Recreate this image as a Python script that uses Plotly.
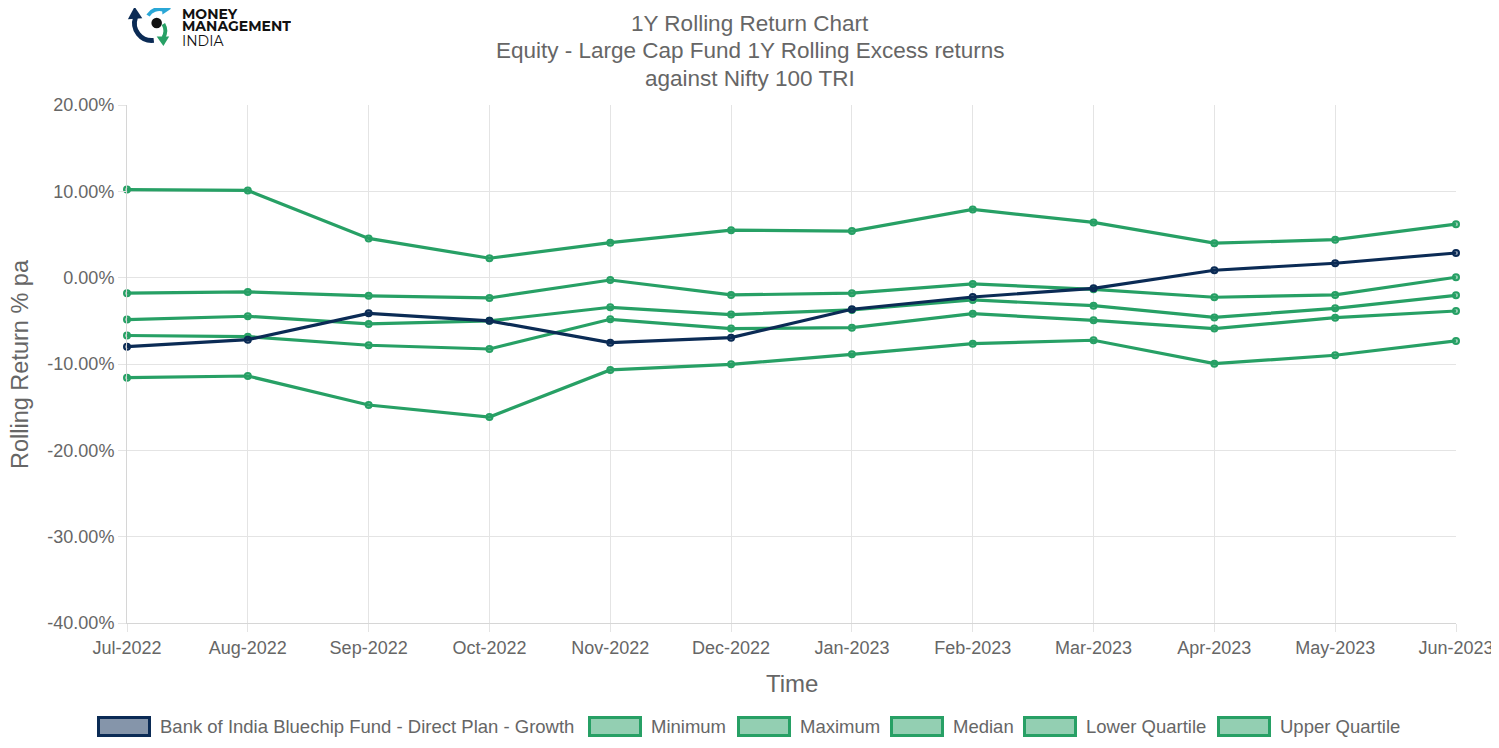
import plotly.graph_objects as go
import base64

months = ["Jul-2022", "Aug-2022", "Sep-2022", "Oct-2022", "Nov-2022", "Dec-2022",
          "Jan-2023", "Feb-2023", "Mar-2023", "Apr-2023", "May-2023", "Jun-2023"]

fund = [-7.99, -7.18, -4.13, -5.00, -7.53, -6.95, -3.66, -2.24, -1.23, 0.86, 1.67, 2.86]
minimum = [-11.58, -11.39, -14.75, -16.14, -10.69, -10.04, -8.88, -7.64, -7.25, -9.96, -8.99, -7.33]
maximum = [10.20, 10.10, 4.55, 2.25, 4.05, 5.50, 5.40, 7.90, 6.40, 4.00, 4.40, 6.20]
median = [-4.85, -4.47, -5.36, -5.00, -3.43, -4.28, -3.74, -2.58, -3.24, -4.60, -3.55, -2.04]
lower_q = [-6.70, -6.83, -7.83, -8.26, -4.82, -5.90, -5.79, -4.17, -4.94, -5.90, -4.63, -3.86]
upper_q = [-1.80, -1.65, -2.10, -2.35, -0.27, -2.00, -1.80, -0.73, -1.35, -2.27, -2.00, 0.05]

y_ticks = [-40, -30, -20, -10, 0, 10, 20]
y_ticktext = ["-40.00%", "-30.00%", "-20.00%", "-10.00%", "0.00%", "10.00%", "20.00%"]

NAVY = "#0b2b55"
GREEN = "#27a065"
series = [
    ("Bank of India Bluechip Fund - Direct Plan - Growth", fund, NAVY, "rgba(11,43,85,0.5)"),
    ("Minimum", minimum, GREEN, "rgba(39,160,101,0.5)"),
    ("Maximum", maximum, GREEN, "rgba(39,160,101,0.5)"),
    ("Median", median, GREEN, "rgba(39,160,101,0.5)"),
    ("Lower Quartile", lower_q, GREEN, "rgba(39,160,101,0.5)"),
    ("Upper Quartile", upper_q, GREEN, "rgba(39,160,101,0.5)"),
]

FONT = "Liberation Sans, Arial, Helvetica, sans-serif"
GRAY = "#666666"

# page layout (the page body adds an 8px offset)
OFF = 8
PL, PR, PT, PB = 127, 1456, 105, 623   # plot area in page pixels
W, H = 1499, 748


def px(x):
    return (x - PL) / (PR - PL)


def py(y):
    return (PB - y) / (PB - PT)


fig = go.Figure()
for name, vals, col, fcol in series[1:] + series[:1]:
    fig.add_trace(go.Scatter(
        x=months, y=vals, mode="lines+markers", name=name,
        line=dict(color=col, width=3.2),
        marker=dict(size=6, color=fcol, line=dict(color=col, width=2)),
        showlegend=False, cliponaxis=False,
    ))

# legend (box style, drawn as layout decoration)
legend_box_x = [97, 588, 737, 890, 1023, 1217]
for (name, vals, col, fcol), bx in zip(series, legend_box_x):
    fig.add_shape(type="rect", xref="paper", yref="paper",
                  x0=px(bx + 1.5), x1=px(bx + 52.5), y0=py(717.5), y1=py(735.5),
                  fillcolor=fcol, line=dict(color=col, width=3), layer="above")
    fig.add_annotation(text=name, xref="paper", yref="paper",
                       x=px(bx + 61), y=py(726), xanchor="left", yanchor="middle",
                       showarrow=False, font=dict(family=FONT, size=18.5, color=GRAY))

# title lines
for txt, yy in [("1Y Rolling Return Chart", 23),
                ("Equity - Large Cap Fund 1Y Rolling Excess returns", 50.5),
                ("against Nifty 100 TRI", 78)]:
    fig.add_annotation(text=txt, xref="paper", yref="paper", x=px(750), y=py(yy),
                       xanchor="center", yanchor="middle", showarrow=False,
                       font=dict(family=FONT, size=22.5, color=GRAY))

# axis titles
fig.add_annotation(text="Time", xref="paper", yref="paper", x=px(792), y=py(683),
                   xanchor="center", yanchor="middle", showarrow=False,
                   font=dict(family=FONT, size=24, color=GRAY))
fig.add_annotation(text="Rolling Return % pa", xref="paper", yref="paper", x=px(20), y=py(364),
                   xanchor="center", yanchor="middle", showarrow=False, textangle=-90,
                   borderpad=0, font=dict(family=FONT, size=23.5, color=GRAY))

# logo icon (graphic only)
svg = """<svg xmlns='http://www.w3.org/2000/svg' viewBox='0 0 50 50' width='50' height='50'>
<circle cx='33' cy='23' r='5.5' fill='#111'/>
<path d='M30 41 A18 18 0 0 1 11 17' stroke='#0b2b55' stroke-width='5' fill='none'/>
<polygon points='3,19 10,6 18,18' fill='#0b2b55'/>
<path d='M24 15 A14 14 0 0 1 40 9' stroke='#2aa7d6' stroke-width='4' fill='none'/>
<polygon points='38,2 48,8 39,14' fill='#2aa7d6'/>
<path d='M40 24 A14 14 0 0 1 40 38' stroke='#27a065' stroke-width='4' fill='none'/>
<polygon points='33,37 46,37 40,47' fill='#27a065'/>
</svg>"""
src = "data:image/svg+xml;base64," + base64.b64encode(svg.encode()).decode()
fig.add_layout_image(dict(source=src, xref="paper", yref="paper",
                          x=px(125), y=py(1), sizex=48 / (PR - PL), sizey=48 / (PB - PT),
                          xanchor="left", yanchor="top", layer="above"))

for txt, yy, bold in [("MONEY", 14, True), ("MANAGEMENT", 26.5, True), ("INDIA", 40.5, False)]:
    fig.add_annotation(text=("<b>%s</b>" % txt) if bold else txt,
                       xref="paper", yref="paper", x=px(181), y=py(yy),
                       xanchor="left", yanchor="middle", showarrow=False,
                       height=12, borderpad=0,
                       font=dict(family="Montserrat, Inter, Arial, sans-serif", size=14, color="#111"))

fig.update_layout(
    width=W, height=H,
    paper_bgcolor="white", plot_bgcolor="white",
    margin=dict(l=PL - OFF, r=W - (PR - OFF), t=PT - OFF, b=H - (PB - OFF)),
    font=dict(family=FONT, color=GRAY, size=18),
    showlegend=False,
    xaxis=dict(type="category", range=[0, 11], showgrid=True, gridcolor="#e4e4e4",
               gridwidth=1, showline=True, linecolor="#d6d6d6", ticks="outside",
               ticklen=8, tickcolor="#e4e4e4",
               tickfont=dict(family=FONT, size=18, color=GRAY)),
    yaxis=dict(range=[-40, 20], tickvals=y_ticks, ticktext=y_ticktext,
               showgrid=True, gridcolor="#e4e4e4", zeroline=False,
               showline=True, linecolor="#d6d6d6", ticks="outside", ticklen=8,
               tickcolor="#e4e4e4", tickfont=dict(family=FONT, size=18, color=GRAY)),
)

fig.write_html("out.html")
